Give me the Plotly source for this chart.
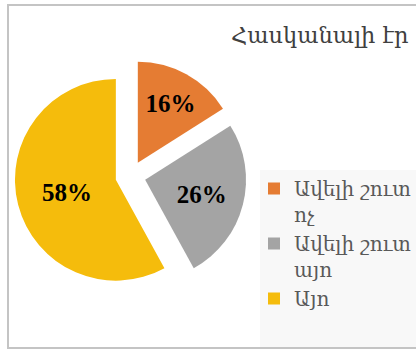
import plotly.graph_objects as go

# Survey answers and their shares (%)
categories = ["Ավելի շուտ ոչ", "Ավելի շուտ այո", "Այո"]
shares = [16, 26, 58]
colors = ["#E57C33", "#A4A4A4", "#F5BC0C"]
title_text = "Հասկանալի էր"

W, H = 416, 352


def px_x(v):
    return v / W


def px_y(v):
    return 1 - v / H


def wrap(label):
    # break the legend label before its last word
    if " " in label:
        head, tail = label.rsplit(" ", 1)
        return head + "<br>" + tail
    return label


fig = go.Figure(
    go.Pie(
        labels=[wrap(c) for c in categories],
        values=shares,
        sort=False,
        direction="clockwise",
        rotation=0,
        pull=[0.15, 0.15, 0.15],
        marker=dict(colors=colors, line=dict(width=0)),
        texttemplate="<b>%{value}%</b>",
        textposition="inside",
        insidetextorientation="horizontal",
        textfont=dict(family="Liberation Serif", size=25, color="#000000"),
        hoverinfo="label+percent",
        domain=dict(x=[px_x(14), px_x(247)], y=[px_y(292), px_y(60)]),
    )
)

frame = dict(color="#C4C4C4", width=2)
shapes = [
    # legend panel background
    dict(type="rect", xref="paper", yref="paper",
         x0=px_x(260), x1=px_x(420), y0=px_y(347), y1=px_y(170),
         fillcolor="#F8F8F8", line=dict(width=0), layer="below"),
    # chart frame: top, left and bottom edges
    dict(type="line", xref="paper", yref="paper",
         x0=px_x(7), x1=px_x(420), y0=px_y(5), y1=px_y(5), line=frame),
    dict(type="line", xref="paper", yref="paper",
         x0=px_x(8), x1=px_x(8), y0=px_y(4), y1=px_y(349), line=frame),
    dict(type="line", xref="paper", yref="paper",
         x0=px_x(7), x1=px_x(420), y0=px_y(348), y1=px_y(348), line=frame),
]

fig.update_layout(
    width=W,
    height=H,
    margin=dict(l=0, r=0, t=0, b=0, autoexpand=False),
    paper_bgcolor="#FFFFFF",
    plot_bgcolor="#FFFFFF",
    shapes=shapes,
    annotations=[
        dict(text=title_text, xref="paper", yref="paper",
             x=px_x(229), y=px_y(35), xanchor="left", yanchor="middle",
             showarrow=False,
             font=dict(family="DejaVu Serif", size=22.5, color="#404040")),
    ],
    showlegend=True,
    legend=dict(
        x=px_x(254), y=px_y(169), xanchor="left", yanchor="top",
        bgcolor="rgba(0,0,0,0)",
        font=dict(family="DejaVu Serif", size=20, color="#595959"),
        tracegroupgap=0,
        valign="top",
    ),
)

fig.write_html("out.html")
